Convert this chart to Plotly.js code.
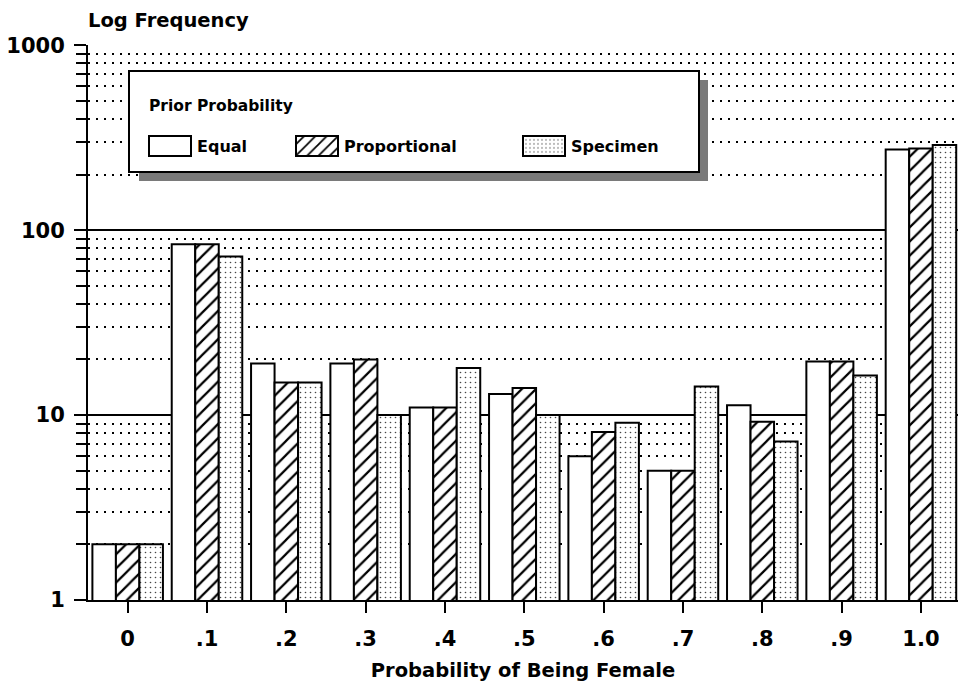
<!DOCTYPE html>
<html>
<head>
<meta charset="utf-8">
<script src="https://cdn.plot.ly/plotly-3.0.1.min.js"></script>
<style>
html,body{margin:0;padding:0;background:#fff;overflow:hidden;}
#chart{width:958px;height:687px;}
</style>
</head>
<body>
<div id="chart"></div>
<script>
// ---- data ----
var categories = [0, 1, 2, 3, 4, 5, 6, 7, 8, 9, 10];
var tickLabels = ['0', '.1', '.2', '.3', '.4', '.5', '.6', '.7', '.8', '.9', '1.0'];
var equalVals = [2, 84, 19, 19, 11, 13, 6, 5, 11.3, 19.5, 273];
var proportionalVals = [2, 84, 15, 20, 11, 14, 8.1, 5, 9.2, 19.5, 277];
var specimenVals = [2, 72, 15, 10, 18, 10, 9.1, 14.3, 7.2, 16.4, 289];
var seriesNames = ['Equal', 'Proportional', 'Specimen'];
var yTickVals = [1, 10, 100, 1000];
var yTickText = ['1', '10', '100', '1000'];
var yMinorVals = [2, 3, 4, 5, 6, 7, 8, 9, 20, 30, 40, 50, 60, 70, 80, 90, 200, 300, 400, 500, 600, 700, 800, 900];

var FONT = 'DejaVu Sans, sans-serif';
var L = 88, R = 958, T = 45, B = 600;
function px(x) { return (x - L) / (R - L); }
function py(y) { return (B - y) / (B - T); }

var outline = {color: '#000', width: 2};
var traces = [
  {type: 'bar', x: categories, y: equalVals, name: seriesNames[0], legend: 'legend',
   marker: {color: '#fff', line: outline}},
  {type: 'bar', x: categories, y: proportionalVals, name: seriesNames[1], legend: 'legend2',
   marker: {color: '#fff', line: outline,
            pattern: {shape: '/', fgcolor: '#000', bgcolor: '#fff', size: 10, solidity: 0.22}}},
  {type: 'bar', x: categories, y: specimenVals, name: seriesNames[2], legend: 'legend3',
   marker: {color: '#fff', line: outline,
            pattern: {shape: '.', fgcolor: '#444', bgcolor: '#fff', size: 5, solidity: 0.08}}}
];

var legendCommon = {
  orientation: 'h', bgcolor: 'rgba(0,0,0,0)', borderwidth: 0,
  xanchor: 'left', yanchor: 'middle', y: py(146), itemwidth: 44,
  font: {family: FONT, size: 16, color: '#000', weight: 'bold'}
};

var layout = {
  width: 958, height: 687,
  margin: {l: L, r: 0, t: T, b: 687 - B, autoexpand: false},
  paper_bgcolor: '#fff', plot_bgcolor: '#fff',
  font: {family: FONT, color: '#000', weight: 'bold'},
  barmode: 'group', bargap: 0.111, bargroupgap: 0,
  showlegend: true,
  title: {text: 'Log Frequency', x: L / 958, xanchor: 'left', xref: 'container',
          y: 1 - 20 / 687, yref: 'container', yanchor: 'middle',
          font: {family: FONT, size: 19.5, color: '#000', weight: 'bold'}},
  xaxis: {
    type: 'linear', range: [-0.5, 10.467], fixedrange: true,
    tickmode: 'array', tickvals: categories, ticktext: tickLabels,
    showgrid: false, zeroline: false,
    showline: true, linecolor: '#000', linewidth: 2,
    ticks: 'outside', ticklen: 11, tickwidth: 2, tickcolor: '#000',
    ticklabelstandoff: 8,
    tickfont: {family: FONT, size: 21, color: '#000', weight: 'bold'},
    title: {text: 'Probability of Being Female', standoff: 13,
            font: {family: FONT, size: 19.5, color: '#000', weight: 'bold'}}
  },
  yaxis: {
    type: 'log', range: [0, 3.002], fixedrange: true,
    tickmode: 'array', tickvals: yTickVals, ticktext: yTickText,
    showgrid: true, gridcolor: '#000', gridwidth: 2,
    zeroline: false,
    showline: true, linecolor: '#000', linewidth: 2,
    ticks: 'outside', ticklen: 12, tickwidth: 2, tickcolor: '#000',
    ticklabelstandoff: 5,
    tickfont: {family: FONT, size: 21, color: '#000', weight: 'bold'},
    minor: {tickmode: 'array', tickvals: yMinorVals, ticks: 'outside', ticklen: 10,
            tickwidth: 2, tickcolor: '#000',
            showgrid: true, gridcolor: '#000', gridwidth: 2, griddash: '2px,6px'}
  },
  legend: Object.assign({}, legendCommon, {x: px(143)}),
  legend2: Object.assign({}, legendCommon, {x: px(290)}),
  legend3: Object.assign({}, legendCommon, {x: px(517)}),
  shapes: [
    {type: 'rect', xref: 'paper', yref: 'paper', layer: 'above',
     x0: px(139), x1: px(708), y0: py(181), y1: py(80),
     fillcolor: '#7a7a7a', line: {width: 0}},
    {type: 'rect', xref: 'paper', yref: 'paper', layer: 'above',
     x0: px(129), x1: px(699), y0: py(172), y1: py(71),
     fillcolor: '#fff', line: {color: '#000', width: 2}}
  ],
  annotations: [
    {text: 'Prior Probability', xref: 'paper', yref: 'paper', showarrow: false,
     x: px(147), xanchor: 'left', y: py(106), yanchor: 'middle',
     font: {family: FONT, size: 15.5, color: '#000', weight: 'bold'}}
  ]
};

Plotly.newPlot('chart', traces, layout, {displayModeBar: false, staticPlot: true}).then(function (gd) {
  // widen the legend swatches to match the reference's rectangular keys
  gd.querySelectorAll('.legendpoints path').forEach(function (p) {
    p.setAttribute('d', 'M21,10H-21V-10H21Z');
  });
});
</script>
</body>
</html>
